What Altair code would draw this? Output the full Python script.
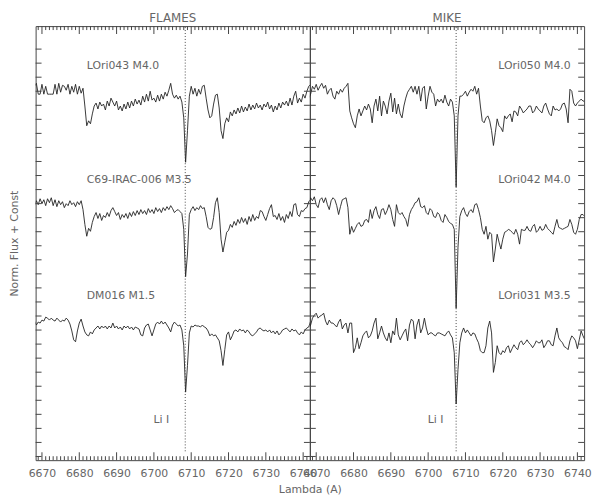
import altair as alt
import pandas as pd

# ---------------- data ----------------
WL0, DWL, NPT = 6668.0, 0.5, 149
wavelength = [WL0 + DWL * i for i in range(NPT)]

flames_names = ["LOri043 M4.0", "C69-IRAC-006 M3.5", "DM016 M1.5"]
mike_names = ["LOri050 M4.0", "LOri042 M4.0", "LOri031 M3.5"]
offsets = [2.59, 1.59, 0.39]          # the "+ Const" of each spectrum
label_y = [4.00, 2.84, 1.66]
flames_label_wl = 6682.0
mike_label_wl = 6738.2
li_wl_flames = 6708.4
li_wl_mike = 6707.5
li_label_wl = 6702.0
li_label_y = 0.41
li_line_bottom = 0.09

xticks_major = [6670, 6680, 6690, 6700, 6710, 6720, 6730, 6740]
xticks_minor = [w for w in range(6669, 6742) if w % 10 != 0]
yticks = [round(4.167 - 0.1424 * k, 4) for k in range(30)]

# FLAMES normalised fluxes
lori043 = [1.20,1.23,1.12,1.12,1.22,1.12,1.20,1.12,1.12,1.12,
           1.12,1.22,1.12,1.23,1.14,1.21,1.20,1.16,1.22,1.12,
           1.20,1.14,1.22,1.12,1.20,1.13,1.18,1.00,0.80,0.85,
           0.82,0.92,1.00,1.03,0.97,1.04,1.00,1.02,0.96,1.05,
           1.00,1.08,1.04,1.00,1.05,0.96,1.00,0.95,1.02,0.97,
           1.04,0.98,1.05,1.00,1.07,1.02,1.06,1.01,1.10,1.04,
           1.12,1.05,1.15,1.06,1.08,1.04,1.11,1.05,1.12,1.07,
           1.14,1.10,1.16,1.23,1.12,1.08,1.11,1.07,1.10,1.04,
           0.88,0.43,0.75,1.10,1.20,1.12,1.18,1.10,1.17,1.12,
           1.20,1.21,1.08,0.96,0.88,0.90,1.02,1.11,1.12,0.98,
           0.75,0.67,0.82,0.88,0.84,0.94,0.90,0.96,0.92,0.98,
           0.93,1.00,0.94,0.99,0.95,1.02,0.96,1.01,0.97,1.03,
           0.98,1.01,0.96,1.02,0.99,1.04,0.97,1.01,0.94,1.00,
           0.96,1.03,0.98,1.04,1.01,1.05,1.00,1.08,1.01,1.10,
           1.15,1.03,1.08,1.04,1.12,1.08,1.15,1.20,1.22]
c69_irac_006 = [0.99,1.04,1.00,1.06,1.01,1.05,0.99,1.06,1.02,1.07,
                0.99,1.05,0.98,1.04,1.00,1.03,0.97,1.01,0.99,1.04,
                1.00,1.02,0.98,1.03,1.00,1.04,0.95,0.80,0.68,0.76,
                0.73,0.82,0.88,0.92,0.86,0.91,0.84,0.89,0.87,0.92,
                0.88,0.94,0.97,0.93,0.89,0.92,0.85,0.90,0.87,0.91,
                0.86,0.92,0.88,0.93,0.89,0.94,0.90,0.95,0.91,0.94,
                0.90,0.96,0.92,0.95,0.91,0.97,0.93,0.96,0.92,0.97,
                0.94,0.98,0.95,0.99,0.96,0.92,0.94,0.95,0.93,0.91,
                0.75,0.27,0.50,0.90,0.95,0.98,0.94,0.97,0.95,0.99,
                0.96,0.97,0.88,0.77,0.75,0.76,0.87,1.02,1.07,0.92,
                0.65,0.52,0.62,0.72,0.74,0.80,0.77,0.83,0.79,0.85,
                0.81,0.87,0.82,0.86,0.80,0.88,0.83,0.90,0.84,0.88,
                0.86,0.94,0.93,0.88,0.84,0.90,0.96,1.00,0.88,0.89,
                0.85,0.91,0.84,0.88,0.82,0.90,0.86,0.93,0.88,1.00,
                1.01,0.90,0.88,0.94,0.93,0.96,0.97,1.03,1.05]
dm016 = [1.02,0.98,1.01,1.00,1.03,1.02,1.06,1.05,1.03,1.05,
         1.03,1.02,1.05,1.03,1.01,1.03,1.02,1.05,1.03,0.99,
         0.92,0.83,0.81,0.92,1.00,1.04,0.97,0.91,0.88,0.87,
         0.91,0.89,0.93,0.95,0.97,0.94,0.97,0.95,0.97,0.94,
         0.97,0.95,1.00,0.95,0.97,0.94,0.96,0.93,0.97,0.95,
         0.97,0.94,0.96,0.93,0.96,0.95,0.94,0.88,0.87,0.95,
         0.98,0.99,0.93,0.87,0.93,0.99,1.01,0.99,1.02,0.99,
         1.01,0.98,0.95,0.91,0.98,1.01,0.99,0.97,0.98,0.93,
         0.77,0.30,0.57,0.90,0.97,0.96,0.98,0.97,0.97,0.96,
         0.98,0.96,0.95,0.92,0.87,0.89,0.87,0.88,0.85,0.82,
         0.72,0.57,0.73,0.88,0.91,0.83,0.87,0.92,0.93,0.91,
         0.94,0.92,0.93,0.90,0.93,0.91,0.88,0.87,0.89,0.91,
         0.94,0.95,0.93,0.92,0.93,0.91,0.93,0.90,0.92,0.89,
         0.92,0.88,0.90,0.93,0.94,0.95,0.93,0.91,0.94,0.92,
         0.93,0.90,0.88,0.91,0.89,0.93,0.95,0.96,1.02]

# MIKE normalised fluxes
lori050 = [1.08,1.12,1.20,1.17,1.22,1.16,1.20,1.23,1.18,1.21,
           1.12,1.16,1.18,1.10,1.07,1.15,1.12,1.17,1.14,1.18,
           1.20,1.23,0.95,0.88,0.82,0.78,0.90,0.97,0.90,0.95,
           1.00,0.96,1.02,0.97,0.83,1.00,1.07,0.95,1.10,0.90,
           1.05,1.00,0.92,1.05,1.13,0.94,1.08,0.92,1.02,0.92,
           0.88,1.00,1.08,1.14,1.17,1.20,1.14,1.20,1.12,1.20,
           1.05,1.18,1.20,0.97,1.10,1.20,1.14,1.12,1.00,1.07,
           1.04,1.07,1.03,1.11,1.04,1.00,1.07,1.04,0.90,0.18,
           0.90,1.10,1.10,1.12,1.15,1.10,1.14,1.17,1.15,1.20,
           1.12,1.18,1.00,0.85,0.83,0.88,0.90,0.85,0.75,0.60,
           0.73,0.87,0.80,0.78,0.74,0.90,0.87,0.90,0.92,0.84,
           0.95,0.94,0.90,1.00,0.97,0.93,0.95,0.97,1.00,1.00,
           0.93,0.95,1.00,0.97,0.95,0.93,1.00,1.03,0.97,0.92,
           0.90,1.00,0.96,0.97,0.95,0.97,1.02,1.03,0.97,0.83,
           1.17,1.15,1.03,1.00,1.03,1.05,1.07,1.05,1.05]
lori042 = [1.00,1.07,1.04,1.08,1.00,0.97,1.05,1.07,1.02,1.07,
           1.00,0.95,1.04,1.07,1.05,0.99,0.90,0.98,1.05,1.06,
           1.07,0.97,0.70,0.78,0.72,0.76,0.80,0.82,0.78,0.79,
           0.84,0.85,0.82,0.95,0.86,0.94,0.98,0.90,0.86,0.95,
           0.96,0.90,0.94,1.00,0.95,0.85,0.78,1.00,0.92,0.90,
           0.92,0.88,0.85,0.78,0.90,0.95,0.98,1.02,1.03,1.07,
           0.98,0.97,0.99,0.92,0.90,0.96,0.94,0.88,0.87,0.92,
           0.90,0.84,0.82,0.90,0.87,0.83,0.81,0.80,0.75,-0.05,
           0.57,0.88,0.94,0.97,0.91,0.88,0.93,0.95,0.92,1.00,
           1.01,0.95,0.87,0.75,0.70,0.78,0.65,0.72,0.70,0.42,
           0.55,0.70,0.62,0.55,0.65,0.72,0.73,0.75,0.74,0.72,
           0.70,0.75,0.70,0.60,0.75,0.74,0.74,0.78,0.74,0.73,
           0.78,0.80,0.72,0.74,0.78,0.74,0.75,0.80,0.76,0.74,
           0.72,0.70,0.78,0.85,0.77,0.76,0.75,0.76,0.77,0.78,
           0.85,0.80,0.72,0.70,0.75,0.85,0.90,0.90,0.88]
lori031 = [0.95,0.98,1.05,1.08,1.10,1.05,1.07,1.08,1.10,1.02,
           0.98,1.03,1.00,1.00,0.98,0.96,1.01,1.04,0.94,0.98,
           1.00,0.90,1.00,1.00,0.70,0.75,0.85,0.74,0.80,0.87,
           0.90,0.92,0.85,0.87,0.92,1.00,1.05,0.84,0.90,0.97,
           0.90,0.85,0.82,0.90,0.80,0.92,0.88,1.05,0.88,0.83,
           0.87,0.91,0.94,0.82,0.98,1.04,1.02,0.84,0.98,1.04,
           0.90,0.95,1.05,0.95,0.88,0.90,0.90,0.88,0.87,0.90,
           0.90,0.89,0.88,0.87,0.90,0.92,0.88,0.85,0.70,0.18,
           0.53,0.80,0.90,0.95,0.90,0.93,0.90,0.87,0.90,0.89,
           0.84,0.80,0.72,0.70,0.70,0.77,0.95,1.02,0.90,0.50,
           0.60,0.77,0.70,0.68,0.72,0.70,0.75,0.77,0.70,0.74,
           0.78,0.75,0.73,0.80,0.82,0.78,0.80,0.83,0.80,0.78,
           0.75,0.78,0.82,0.80,0.80,0.83,0.75,0.78,0.82,0.82,
           0.78,0.77,0.87,0.95,0.85,0.82,0.80,0.76,0.75,0.73,
           0.82,0.87,0.85,0.82,0.74,0.83,0.92,0.87,0.83]

# ---------------- style ----------------
W, H = 278, 440
FONT = "DejaVu Sans"
TXT = "#666666"
FRAME = "#444444"
LINE = "#222222"

xs = alt.Scale(domain=[6668.3, 6741.8], nice=False, zero=False)
ys = alt.Scale(domain=[0, 4.40], nice=False, zero=False)


def panel(title, names, spectra, li_wl, label_wl, label_align, left):
    rows = []
    for name, off, flux in zip(names, offsets, spectra):
        for w, f in zip(wavelength, flux):
            rows.append({"wl": w, "y": f + off, "star": name})
    spec_df = pd.DataFrame(rows)

    axis_kw = dict(values=xticks_major, format="d", ticks=False, tickSize=0,
                   domain=False, grid=False, labelPadding=8, labelFontSize=11,
                   labelColor=TXT, labelFont=FONT, labelOverlap=False,
                   labelBound=False, labelFlush=False)
    if left:
        xaxis = alt.Axis(title="Lambda (A)", titleX=W, titleY=30,
                         titleAlign="center", titleBaseline="middle",
                         titleFontSize=11, titleFontWeight="normal",
                         titleColor=TXT, titleFont=FONT, **axis_kw)
        yaxis = alt.Axis(title="Norm. Flux + Const", labels=False, ticks=False,
                         domain=False, grid=False, titlePadding=16,
                         titleFontSize=11, titleFontWeight="normal",
                         titleColor=TXT, titleFont=FONT)
    else:
        xaxis = alt.Axis(title=None, **axis_kw)
        yaxis = None

    def X():
        return alt.X("wl:Q", scale=xs, axis=xaxis)

    def Y():
        return alt.Y("y:Q", scale=ys, axis=yaxis)

    lines = alt.Chart(spec_df).mark_line(
        color=LINE, strokeWidth=0.9, clip=True
    ).encode(x=X(), y=Y(), detail="star:N")

    li_df = pd.DataFrame({"wl": [li_wl], "y": [li_line_bottom], "y2": [4.40]})
    li_rule = alt.Chart(li_df).mark_rule(
        color="#333333", strokeWidth=0.9, strokeDash=[1, 2]
    ).encode(x=X(), y=Y(), y2="y2:Q")

    lab_df = pd.DataFrame({"wl": [label_wl] * 3, "y": label_y, "label": names})
    labels = alt.Chart(lab_df).mark_text(
        align=label_align, baseline="middle", fontSize=11, font=FONT, color=TXT
    ).encode(x=X(), y=Y(), text="label:N")

    lit_df = pd.DataFrame({"wl": [li_label_wl], "y": [li_label_y], "label": ["Li I"]})
    li_text = alt.Chart(lit_df).mark_text(
        align="center", baseline="middle", fontSize=11, font=FONT, color=TXT
    ).encode(x=X(), y=Y(), text="label:N")

    minor_df = pd.DataFrame({"wl": xticks_minor})
    major_df = pd.DataFrame({"wl": xticks_major})
    yt_df = pd.DataFrame({"y": yticks})
    tick_mark = dict(color=FRAME, strokeWidth=1)
    tb_minor = alt.Chart(minor_df).mark_rule(**tick_mark).encode(
        x=X(), y=alt.value(H), y2=alt.value(H - 4))
    tt_minor = alt.Chart(minor_df).mark_rule(**tick_mark).encode(
        x=X(), y=alt.value(0), y2=alt.value(4))
    tb_major = alt.Chart(major_df).mark_rule(**tick_mark).encode(
        x=X(), y=alt.value(H), y2=alt.value(H - 8))
    tt_major = alt.Chart(major_df).mark_rule(**tick_mark).encode(
        x=X(), y=alt.value(0), y2=alt.value(8))
    yl = alt.Chart(yt_df).mark_rule(**tick_mark).encode(
        y=Y(), x=alt.value(0), x2=alt.value(6))
    yr = alt.Chart(yt_df).mark_rule(**tick_mark).encode(
        y=Y(), x=alt.value(W), x2=alt.value(W - 6))

    return alt.layer(
        lines, li_rule, labels, li_text,
        tb_minor, tt_minor, tb_major, tt_major, yl, yr
    ).properties(
        width=W, height=H,
        title=alt.TitleParams(title, fontSize=12, fontWeight="normal",
                              color=TXT, font=FONT, anchor="middle", offset=1),
    )


left_panel = panel("FLAMES", flames_names, [lori043, c69_irac_006, dm016],
                   li_wl_flames, flames_label_wl, "left", True)
right_panel = panel("MIKE", mike_names, [lori050, lori042, lori031],
                    li_wl_mike, mike_label_wl, "right", False)

chart = alt.hconcat(left_panel, right_panel, spacing=0, bounds="flush").properties(
    padding=0
).configure_view(
    stroke=FRAME, strokeWidth=1
)

chart.save("out.html", embed_options={"renderer": "svg", "actions": False})
